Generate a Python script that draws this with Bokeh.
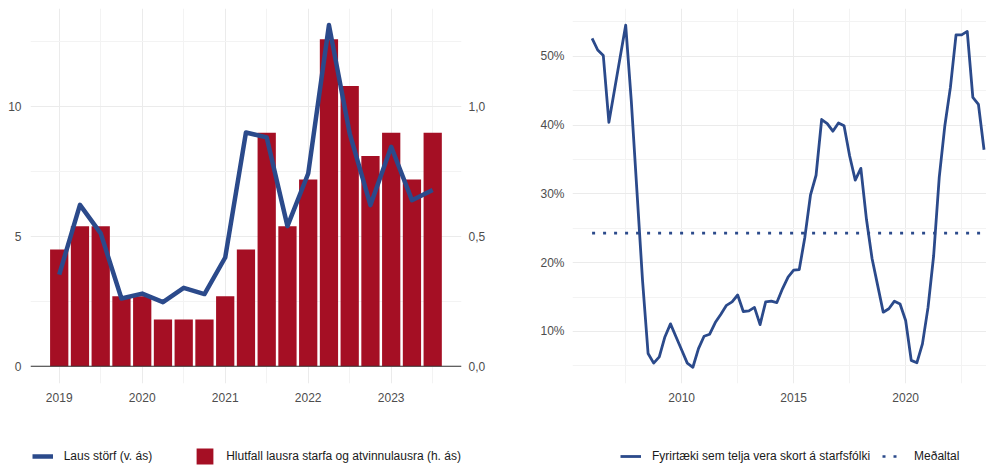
from bokeh.plotting import figure
from bokeh.models import (ColumnDataSource, Range1d, LinearAxis, FixedTicker,
                          Legend, LegendItem, Span)
from bokeh.layouts import row, column
from bokeh.embed import file_html
from bokeh.resources import INLINE

# ---------------- data: left panel ----------------
left_quarters = ["2019Q1", "2019Q2", "2019Q3", "2019Q4",
                 "2020Q1", "2020Q2", "2020Q3", "2020Q4",
                 "2021Q1", "2021Q2", "2021Q3", "2021Q4",
                 "2022Q1", "2022Q2", "2022Q3", "2022Q4",
                 "2023Q1", "2023Q2", "2023Q3"]
vacancies = [3.53, 6.22, 5.12, 2.61, 2.80, 2.47, 3.02, 2.78, 4.19, 9.01,
             8.82, 5.40, 7.43, 13.15, 8.97, 6.21, 8.46, 6.40, 6.79]
vacancy_ratio = [0.45, 0.54, 0.54, 0.27, 0.27, 0.18, 0.18, 0.18, 0.27, 0.45,
                 0.90, 0.54, 0.72, 1.26, 1.08, 0.81, 0.90, 0.72, 0.90]
left_x_ticks = [2019, 2020, 2021, 2022, 2023]
left_x_minor = [2019.5, 2020.5, 2021.5, 2022.5, 2023.5]
left_y_ticks = [0, 5, 10]
left_y_minor = [2.5, 7.5, 12.5]
left_y2_ticks = [0.0, 0.5, 1.0]
left_y2_labels = ["0,0", "0,5", "1,0"]

# ---------------- data: right panel ----------------
right_quarters = [f"{y}Q{q}" for y in range(2006, 2024) for q in range(1, 5)][:71]
shortage = [52.6, 50.9, 50.1, 40.4,
            45.1, 49.8, 54.5, 43.5,
            30.5, 17.5, 6.8, 5.4,
            6.3, 9.2, 11.1, 9.2,
            7.3, 5.4, 4.8, 7.5,
            9.3, 9.6, 11.3, 12.5,
            13.8, 14.3, 15.3, 12.9,
            13.0, 13.5, 11.0, 14.3,
            14.4, 14.2, 16.2, 17.9,
            18.9, 19.0, 23.7, 29.8,
            32.7, 40.8, 40.2, 39.1,
            40.3, 39.9, 35.5, 32.0,
            33.7, 26.3, 20.6, 16.7,
            12.8, 13.3, 14.4, 14.0,
            11.6, 5.8, 5.45, 8.2,
            13.5, 21.0, 32.4, 39.9,
            45.5, 53.1, 53.1, 53.6,
            44.0, 43.0, 36.4]
shortage_mean = 24.3
right_x_ticks = [2010, 2015, 2020]
right_x_minor = [2007.5, 2012.5, 2017.5, 2022.5]
right_y_ticks = [10, 20, 30, 40, 50]
right_y_labels = ["10%", "20%", "30%", "40%", "50%"]
right_y_minor = [5, 15, 25, 35, 45, 55]

label_line = "Laus störf (v. ás)"
label_bar = "Hlutfall lausra starfa og atvinnulausra (h. ás)"
label_short = "Fyrirtæki sem telja vera skort á starfsfólki"
label_mean = "Meðaltal"

BLUE = "#2B4A8B"
RED = "#A50F24"
GRID = "#EBEBEB"
GRID_MINOR = "#F3F3F3"
TICK_COLOR = "#4D4D4D"
FONT = "Liberation Sans"
H_MAIN = 438
H_LEG = 28
W_LEFT = 505
W_RIGHT = 481


def qx(q):
    return int(q[:4]) + (int(q[5]) - 1) / 4


def style_axis(ax, standoff):
    ax.axis_line_color = None
    ax.major_tick_line_color = None
    ax.minor_tick_line_color = None
    ax.major_label_text_font = FONT
    ax.major_label_text_font_size = "12px"
    ax.major_label_text_color = TICK_COLOR
    ax.major_label_standoff = standoff


def legend_figure(width):
    # a strip below each panel that only carries the legend; its ranges
    # keep the key renderers' data out of view
    f = figure(width=width, height=H_LEG, output_backend="svg",
               toolbar_location=None, x_axis_type=None, y_axis_type=None,
               x_range=Range1d(0, 1), y_range=Range1d(-100, -99),
               min_border=0)
    f.outline_line_color = None
    f.grid.visible = False
    return f


def make_legend(items, x, spacing):
    leg = Legend(items=items)
    leg.location = (x, 0)
    leg.orientation = "horizontal"
    leg.padding = 0
    leg.margin = 0
    leg.spacing = spacing
    leg.border_line_color = None
    leg.background_fill_alpha = 0
    leg.glyph_width = 21
    leg.glyph_height = 20
    leg.label_height = 20
    leg.label_standoff = 11
    leg.label_text_font = FONT
    leg.label_text_font_size = "12px"
    leg.label_text_color = "#1A1A1A"
    return leg


# ---------------- left figure ----------------
src_l = ColumnDataSource(dict(x=[qx(q) for q in left_quarters],
                              vac=vacancies, ratio=vacancy_ratio))

p1 = figure(width=W_LEFT, height=H_MAIN, output_backend="svg", toolbar_location=None,
            x_range=Range1d(2018.654, 2023.847), y_range=Range1d(-0.667, 13.79),
            min_border_left=30, min_border_right=44, min_border_top=8,
            min_border_bottom=H_MAIN - 383)
p1.outline_line_color = None
p1.extra_y_ranges = {"right": Range1d(-0.0667, 1.379)}

p1.xaxis.ticker = FixedTicker(ticks=left_x_ticks, minor_ticks=left_x_minor)
p1.yaxis.ticker = FixedTicker(ticks=left_y_ticks, minor_ticks=left_y_minor)
p1.xgrid.ticker = FixedTicker(ticks=left_x_ticks, minor_ticks=left_x_minor)
p1.ygrid.ticker = FixedTicker(ticks=left_y_ticks, minor_ticks=left_y_minor)
for g in (p1.xgrid, p1.ygrid):
    g.grid_line_color = GRID
    g.grid_line_width = 1
    g.minor_grid_line_color = GRID_MINOR
    g.minor_grid_line_width = 1
style_axis(p1.xaxis[0], 3)
style_axis(p1.yaxis[0], 3)

ax_r = LinearAxis(y_range_name="right",
                  ticker=FixedTicker(ticks=left_y2_ticks),
                  major_label_overrides=dict(zip(left_y2_ticks, left_y2_labels)))
style_axis(ax_r, 1)
p1.add_layout(ax_r, "right")

bars = p1.vbar(x="x", top="ratio", bottom=0, width=0.22, y_range_name="right",
               fill_color=RED, line_color=None, source=src_l)
p1.add_layout(Span(location=0, dimension="width", line_color="#333333",
                   line_width=1.1))
ln = p1.line("x", "vac", line_width=4.5, line_color=BLUE, line_join="round",
             source=src_l)

lf1 = legend_figure(W_LEFT)
k_line = lf1.line("x", "vac", line_width=4.5, line_color=BLUE, source=src_l)
k_bar = lf1.vbar(x="x", top="ratio", bottom=0, width=0.22, fill_color=RED,
                 line_color=None, source=src_l)
lf1.add_layout(make_legend([LegendItem(label=label_line, renderers=[k_line]),
                            LegendItem(label=label_bar, renderers=[k_bar])],
                           31.7, 42), "center")

# ---------------- right figure ----------------
xs_r = [qx(q) for q in right_quarters]
src_r = ColumnDataSource(dict(x=xs_r, v=shortage))

p2 = figure(width=W_RIGHT, height=H_MAIN, output_backend="svg", toolbar_location=None,
            x_range=Range1d(2005.125, 2023.61), y_range=Range1d(2.44, 56.93),
            min_border_left=67, min_border_right=0, min_border_top=8,
            min_border_bottom=H_MAIN - 383)
p2.outline_line_color = None
p2.xaxis.ticker = FixedTicker(ticks=right_x_ticks, minor_ticks=right_x_minor)
p2.yaxis.ticker = FixedTicker(ticks=right_y_ticks, minor_ticks=right_y_minor)
p2.xgrid.ticker = FixedTicker(ticks=right_x_ticks, minor_ticks=right_x_minor)
p2.ygrid.ticker = FixedTicker(ticks=right_y_ticks, minor_ticks=right_y_minor)
p2.yaxis.major_label_overrides = dict(zip(right_y_ticks, right_y_labels))
for g in (p2.xgrid, p2.ygrid):
    g.grid_line_color = GRID
    g.grid_line_width = 1
    g.minor_grid_line_color = GRID_MINOR
    g.minor_grid_line_width = 1
style_axis(p2.xaxis[0], 3)
style_axis(p2.yaxis[0], 2)

ln2 = p2.line("x", "v", line_width=2.8, line_color=BLUE, line_join="round",
              source=src_r)
mean_x = [xs_r[0], xs_r[-1]]
mean_y = [shortage_mean, shortage_mean]
p2.line(x=mean_x, y=mean_y, line_width=2.7, line_color=BLUE, line_dash="3 8")

lf2 = legend_figure(W_RIGHT)
k_line2 = lf2.line("x", "v", line_width=2.8, line_color=BLUE, source=src_r)
k_mean = lf2.line(x=mean_x, y=mean_y, line_width=2.7, line_color=BLUE,
                  line_dash="3 8")
lf2.add_layout(make_legend([LegendItem(label=label_short, renderers=[k_line2]),
                            LegendItem(label=label_mean, renderers=[k_mean])],
                           620 - W_LEFT, 12), "center")

layout = column(row(p1, p2), row(lf1, lf2))
open("out.html", "w").write(file_html(layout, INLINE))
